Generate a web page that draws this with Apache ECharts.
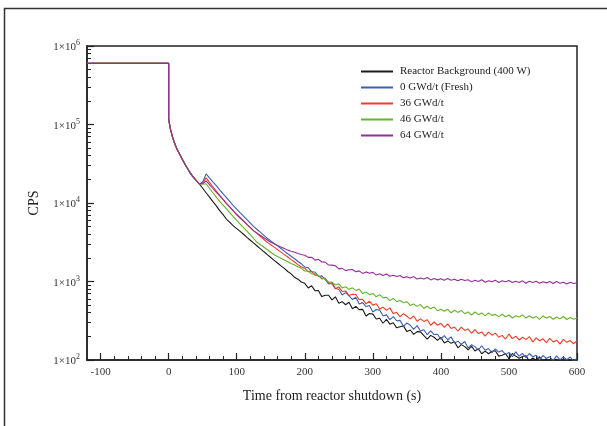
<!DOCTYPE html>
<html><head><meta charset="utf-8">
<script src="https://cdn.jsdelivr.net/npm/echarts@6/dist/echarts.min.js"></script>
<style>html,body{margin:0;padding:0;background:#fff}#c{width:607px;height:426px}</style>
</head><body><div id="c"></div>
<script>
const seriesNames = ['Reactor Background (400 W)', '0 GWd/t (Fresh)', '36 GWd/t', '46 GWd/t', '64 GWd/t'];
const seriesColors = ['#1a1a1a', '#3a5fb5', '#f03c28', '#66b22c', '#952d98'];

// shared part before the jump (time s, CPS)
const commonT = [-120, -60, 0, 0, 1, 2, 4, 6, 8, 10, 13, 16, 20, 25, 30, 35, 40, 45];
const commonV = [600000, 600000, 600000, 120000, 105000, 92000, 78000, 68000, 60000, 54000, 47000, 42000, 36000, 30000, 25500, 22000, 19500, 17500];

// tail samples: t = 50, 55, ..., 600
const tailStart = 50, tailStep = 5;
const blackV = [15400,13500,11900,10400,9200,8000,7100,6200,5650,5120,
4720,4350,4000,3650,3350,3080,2830,2600,2390,2200,
2020,1860,1720,1580,1470,1340,1250,1130,1070,985,
948,827,882,764,768,642,668,668,583,638,
528,553,506,544,450,482,438,442,364,391,
384,333,340,294,330,286,298,257,265,272,
230,241,212,230,228,204,184,206,195,178,
194,165,175,163,171,143,157,148,135,150,
130,139,120,130,120,129,131,112,115,120,
104,121,112,105,111,113,97,106,100,110,
96,104,91,98,102,89,99,92,100,87,94];
const blueV = [18500,23500,20900,18600,16600,14700,13100,11700,10400,9230,
8340,7520,6790,6140,5550,5010,4600,4220,3870,3550,
3290,3050,2840,2630,2440,2260,2100,1950,1800,1680,
1533,1500,1330,1320,1160,1180,1060,931,960,813,
797,674,721,657,590,629,518,538,479,496,
408,439,432,366,376,327,357,316,320,268,
296,277,246,274,234,243,210,235,211,213,
184,204,181,197,165,174,158,172,142,157,
148,134,152,133,140,123,139,126,132,117,
125,110,127,112,121,107,121,110,115,101,
114,105,110,98,113,101,109,101,109,97,105];
const redV = [18000,20900,18300,16100,14200,12500,11100,9900,8850,7950,
7150,6500,5900,5350,4860,4420,4070,3740,3430,3150,
2940,2740,2550,2370,2200,2050,1900,1770,1640,1530,
1479,1329,1352,1205,1195,1080,1110,960,930,806,
853,747,758,662,687,683,586,595,518,560,
500,520,446,471,429,461,390,405,357,389,
361,334,364,311,334,310,326,277,305,277,
293,260,289,252,263,234,262,238,248,219,
244,217,228,201,226,207,220,195,206,185,
214,187,201,180,195,182,199,169,191,176,
186,166,189,170,179,159,183,168,177,161,177];
const greenV = [17300,17600,15400,13500,11900,10500,9400,8400,7500,6700,
6000,5400,4850,4370,3920,3510,3160,2940,2730,2540,
2360,2190,2080,1980,1880,1790,1700,1620,1540,1470,
1362,1360,1250,1250,1190,1100,1080,980,982,902,
933,828,857,793,830,770,803,701,733,680,
705,638,681,619,629,571,608,553,573,537,
553,495,517,482,508,454,483,450,474,424,
443,417,442,400,430,404,428,389,409,372,
409,378,398,365,399,370,381,357,383,355,
374,343,367,352,375,342,366,342,359,330,
364,342,358,330,353,334,358,328,348,330,342];
const purpleV = [17700,19100,17100,15300,13700,12300,11000,9840,8830,7910,
7080,6440,5860,5330,4850,4420,4130,3860,3610,3380,
3160,3020,2880,2750,2630,2510,2430,2360,2280,2210,
2161,2029,2040,1872,1916,1772,1765,1620,1616,1586,
1450,1469,1377,1414,1421,1333,1367,1267,1326,1277,
1308,1213,1252,1196,1246,1164,1204,1158,1195,1116,
1153,1107,1154,1077,1111,1078,1123,1048,1091,1049,
1081,1038,1092,1039,1071,1019,1071,1030,1051,989,
1040,1000,1051,980,1020,990,1040,970,1020,990,
1030,970,1010,970,1020,950,1010,970,1009,951,
990,960,1000,941,999,951,980,931,979,941,965];

const xMajorTicks = [-100, 0, 100, 200, 300, 400, 500, 600];
const yMajorTicks = [100, 1000, 10000, 100000, 1000000];

const xMinorTicks = [];
for (let t = -100; t <= 600; t += 20) if (t % 100 !== 0) xMinorTicks.push(t);
const yMinorTicks = [];
for (let d = 100; d < 1000000; d *= 10) for (let k = 2; k <= 9; k++) yMinorTicks.push(k * d);

function build(vals) {
  const out = commonT.map((t, i) => [t, commonV[i]]);
  vals.forEach((v, i) => out.push([tailStart + i * tailStep, v]));
  return out;
}
const allVals = [blackV, blueV, redV, greenV, purpleV];

const serif = '"Liberation Serif", "DejaVu Serif", serif';
const chart = echarts.init(document.getElementById('c'), null, {renderer: 'canvas'});
chart.setOption({
  animation: false,
  backgroundColor: '#fff',
  graphic: [{
    type: 'rect', silent: true, z: -1,
    shape: {x: 4.5, y: 8.5, width: 640, height: 460},
    style: {fill: 'none', stroke: '#333', lineWidth: 1.5}
  }],
  grid: {left: 87, top: 46, right: 30, bottom: 66, show: true, borderColor: '#222', borderWidth: 1.5, backgroundColor: 'transparent'},
  legend: {
    orient: 'vertical', left: 356, top: 61,
    itemWidth: 32, itemHeight: 2, itemGap: 5, icon: 'rect',
    data: seriesNames,
    textStyle: {fontFamily: serif, fontSize: 11, color: '#222', padding: [0, 0, 0, 2]}
  },
  xAxis: [{
    type: 'value', min: -120, max: 600, position: 'bottom',
    name: 'Time from reactor shutdown (s)', nameLocation: 'middle', nameGap: 29,
    nameTextStyle: {fontFamily: serif, fontSize: 14, color: '#222'},
    axisLine: {show: true, onZero: false, lineStyle: {color: '#222', width: 1.5}},
    axisTick: {show: true, inside: true, length: 7, customValues: xMajorTicks, lineStyle: {color: '#222', width: 1.2}},
    axisLabel: {customValues: xMajorTicks, fontFamily: serif, fontSize: 11, color: '#333', margin: 7},
    splitLine: {show: false}
  }, {
    type: 'value', min: -120, max: 600, position: 'bottom',
    axisLine: {show: false, onZero: false},
    axisTick: {show: true, inside: true, length: 4, customValues: xMinorTicks, lineStyle: {color: '#222', width: 1}},
    axisLabel: {show: false}, splitLine: {show: false}
  }],
  yAxis: [{
    type: 'log', logBase: 10, min: 100, max: 1000000, position: 'left',
    name: 'CPS', nameLocation: 'middle', nameGap: 46, nameRotate: 90,
    nameTextStyle: {fontFamily: serif, fontSize: 14, color: '#222'},
    axisLine: {show: true, onZero: false, lineStyle: {color: '#222', width: 1.5}},
    axisTick: {show: true, inside: true, length: 7, customValues: yMajorTicks, lineStyle: {color: '#222', width: 1.2}},
    axisLabel: {
      customValues: yMajorTicks, margin: 7,
      formatter: v => '{a|1×10}{b|' + Math.round(Math.log10(v)) + '}',
      rich: {
        a: {fontFamily: serif, fontSize: 11, color: '#333', verticalAlign: 'bottom', lineHeight: 14},
        b: {fontFamily: serif, fontSize: 8, color: '#333', verticalAlign: 'top', lineHeight: 14, padding: [0, 0, 6, 0]}
      }
    },
    splitLine: {show: false}
  }, {
    type: 'log', logBase: 10, min: 100, max: 1000000, position: 'left', offset: 0,
    axisLine: {show: false, onZero: false},
    axisTick: {show: true, inside: true, length: 4, customValues: yMinorTicks, lineStyle: {color: '#222', width: 1}},
    axisLabel: {show: false}, splitLine: {show: false}
  }],
  series: seriesNames.map((n, i) => ({
    name: n, type: 'line', xAxisIndex: 0, yAxisIndex: 0,
    data: build(allVals[i]), showSymbol: false, symbol: 'none',
    color: seriesColors[i],
    lineStyle: {width: 1.1, color: seriesColors[i]},
    clip: true
  }))
});
</script></body></html>
